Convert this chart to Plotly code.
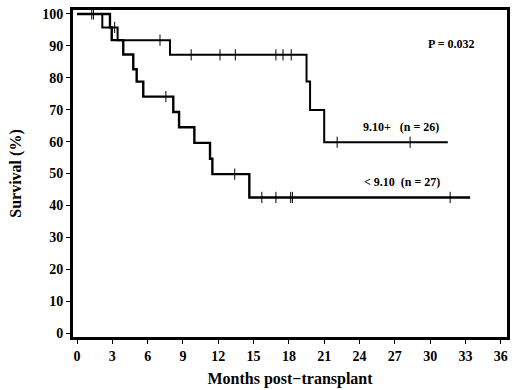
import plotly.graph_objects as go
import bisect

# Group 9.10+ (n=26): step times (months) and survival (%)
hi_t = [0, 2.15, 3.45, 7.9, 19.5, 19.8, 21.0, 31.5]
hi_s = [100, 95.8, 91.8, 87.2, 78.8, 69.9, 59.8, 59.8]
hi_cens = [1.25, 1.4, 3.2, 7.05, 9.7, 12.15, 13.45, 16.9, 17.5, 18.2, 22.1, 28.3]

# Group < 9.10 (n=27)
lo_t = [0, 2.8, 2.95, 3.93, 4.78, 5.07, 5.63, 8.18, 8.67, 9.97, 11.3, 11.5, 14.64, 33.4]
lo_s = [100, 95.8, 91.8, 87.3, 82.7, 78.8, 74.1, 69.3, 64.5, 59.6, 54.6, 49.8, 42.5, 42.5]
lo_cens = [7.55, 13.4, 15.7, 16.9, 18.15, 18.3, 31.7]

x_ticks = list(range(0, 37, 3))
y_ticks = list(range(0, 101, 10))

def step_val(ts, ss, t):
    i = bisect.bisect_right(ts, t) - 1
    return ss[max(i, 0)]

FONT = "Liberation Serif"
fig = go.Figure()
fig.add_trace(go.Scatter(x=hi_t, y=hi_s, mode="lines", line=dict(color="black", width=2, shape="hv"), showlegend=False))
fig.add_trace(go.Scatter(x=lo_t, y=lo_s, mode="lines", line=dict(color="black", width=2.4, shape="hv"), showlegend=False))
fig.add_trace(go.Scatter(x=hi_cens, y=[step_val(hi_t, hi_s, t) for t in hi_cens], mode="markers",
                         marker=dict(symbol="line-ns", size=8, line=dict(color="black", width=1)), showlegend=False))
fig.add_trace(go.Scatter(x=lo_cens, y=[step_val(lo_t, lo_s, t) for t in lo_cens], mode="markers",
                         marker=dict(symbol="line-ns", size=8, line=dict(color="black", width=1)), showlegend=False))

fig.add_annotation(x=31.8, y=90.6, text="<b>P = 0.032</b>", showarrow=False, font=dict(family=FONT, size=12, color="black"))
fig.add_annotation(x=27.5, y=64.6, text="<b>9.10+   (n = 26)</b>", showarrow=False, font=dict(family=FONT, size=12, color="black"))
fig.add_annotation(x=27.6, y=47.2, text="<b>< 9.10  (n = 27)</b>", showarrow=False, font=dict(family=FONT, size=12, color="black"))

fig.update_xaxes(range=[-0.34, 36.53], tickvals=x_ticks, ticktext=[f"<b>{v}</b>" for v in x_ticks],
                 automargin=False,
                 showgrid=False, zeroline=False, showline=True, linecolor="black", linewidth=3, mirror=True,
                 ticks="outside", ticklen=4, tickwidth=1, tickcolor="black",
                 tickfont=dict(family=FONT, size=14, color="black"),
                 title=dict(text="<b>Months post\u2212transplant</b>", font=dict(family=FONT, size=16, color="black"), standoff=11))
fig.update_yaxes(range=[-1.25, 101.25], tickvals=y_ticks, ticktext=[f"<b>{v}</b>" for v in y_ticks],
                 automargin=False,
                 showgrid=False, zeroline=False, showline=True, linecolor="black", linewidth=3, mirror=True,
                 ticks="outside", ticklen=4, tickwidth=1, tickcolor="black",
                 tickfont=dict(family=FONT, size=14, color="black"),
                 title=dict(text="<b>Survival (%)</b>", font=dict(family=FONT, size=16, color="black"), standoff=17))
fig.update_layout(width=520, height=390, margin=dict(l=73, r=13, t=10, b=53),
                  plot_bgcolor="white", paper_bgcolor="white")
fig.write_html("out.html", config={"displayModeBar": False},
               post_script="document.body.style.margin='0';document.body.style.padding='0';")
